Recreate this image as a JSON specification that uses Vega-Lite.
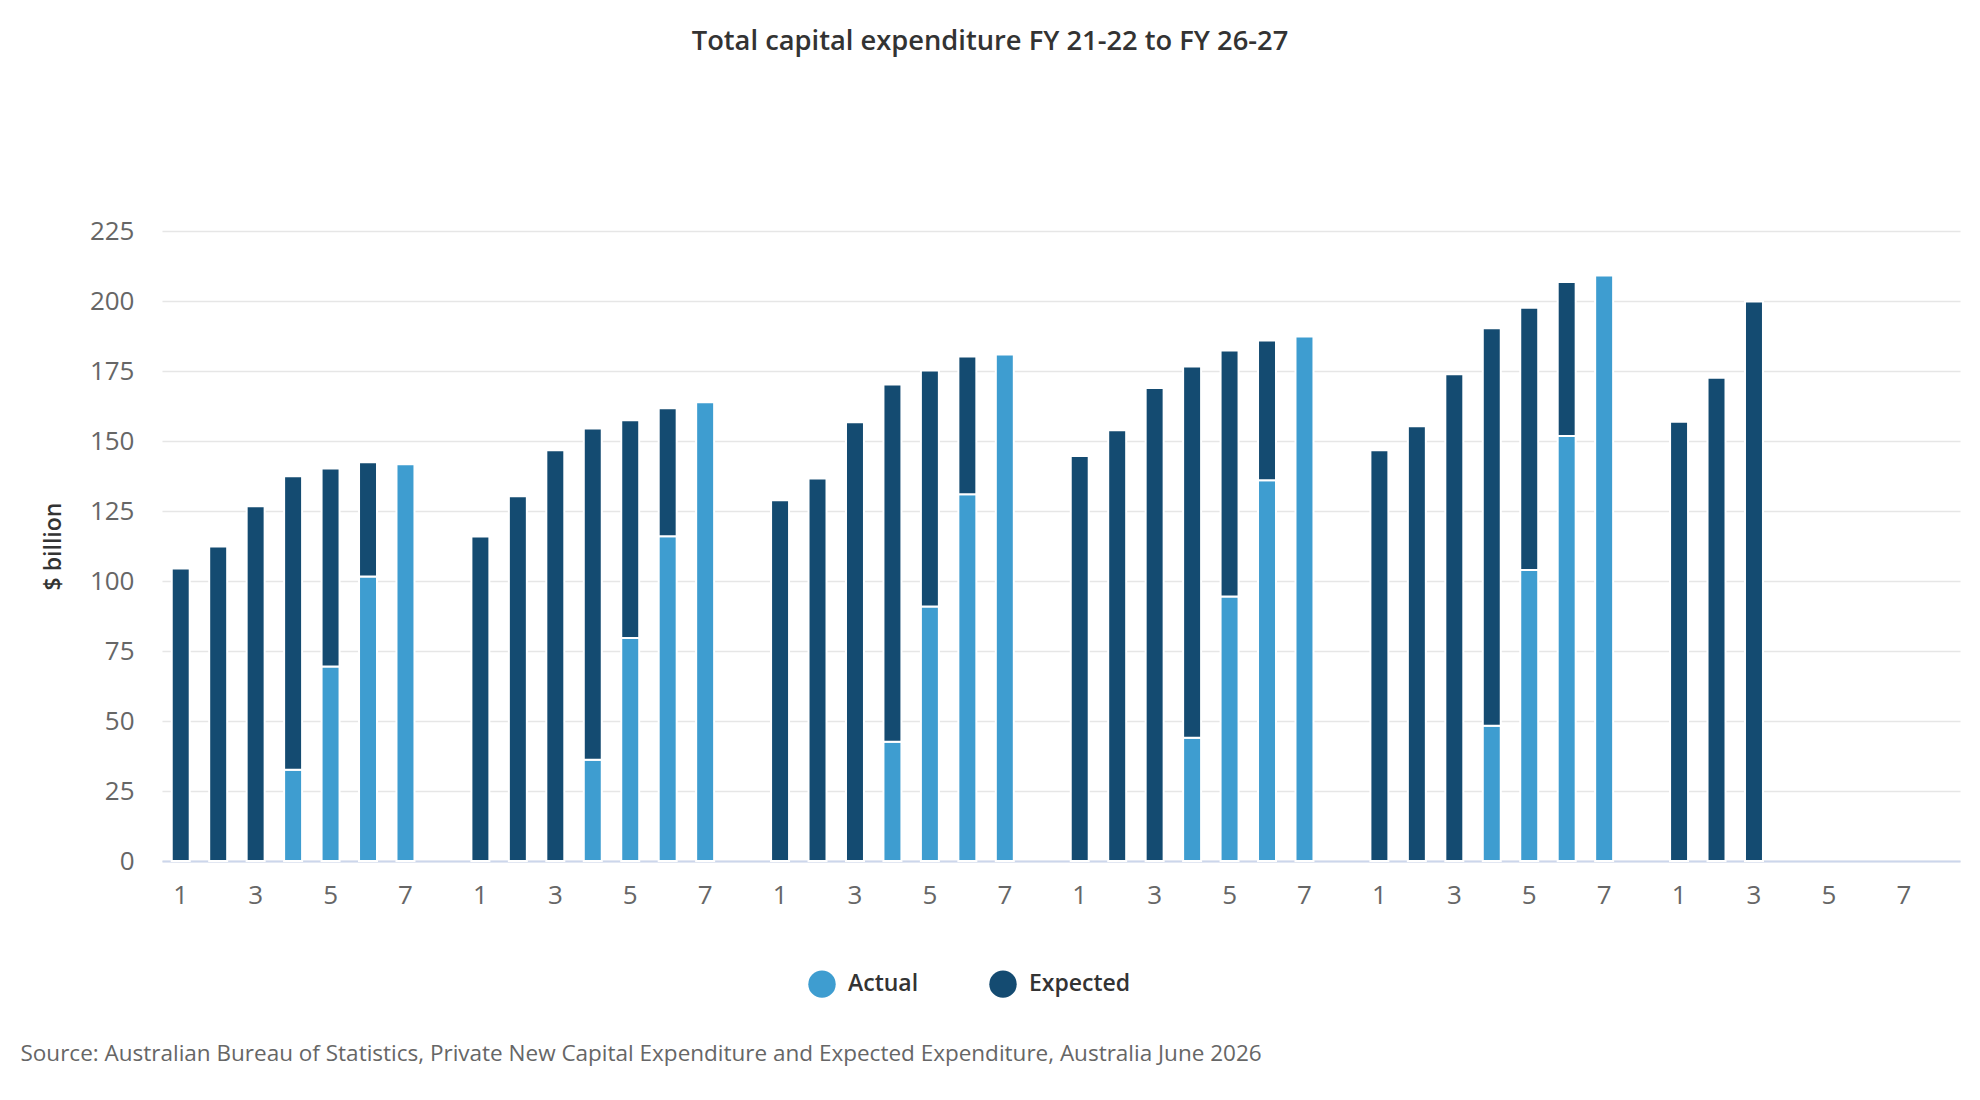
{
  "$schema": "https://vega.github.io/schema/vega-lite/v6.json",
  "width": 1798,
  "height": 630,
  "autosize": {"type": "none"},
  "padding": {"left": 162, "top": 231, "right": 20, "bottom": 239},
  "background": "white",
  "config": {
    "font": "Open Sans",
    "view": {"stroke": null}
  },
  "title": {
    "text": "Total capital expenditure FY 21-22 to FY 26-27",
    "anchor": "middle",
    "dx": -71,
    "offset": 163,
    "fontSize": 27.3,
    "fontWeight": 600,
    "color": "#333333",
    "font": "Open Sans"
  },
  "data": {
    "values": [
      {"slot": "1-1", "type": "Expected", "value": 104.5},
      {"slot": "1-2", "type": "Expected", "value": 112.3},
      {"slot": "1-3", "type": "Expected", "value": 126.7},
      {"slot": "1-4", "type": "Actual", "value": 32.6},
      {"slot": "1-4", "type": "Expected", "value": 104.8},
      {"slot": "1-5", "type": "Actual", "value": 69.5},
      {"slot": "1-5", "type": "Expected", "value": 70.7},
      {"slot": "1-6", "type": "Actual", "value": 101.6},
      {"slot": "1-6", "type": "Expected", "value": 40.8},
      {"slot": "1-7", "type": "Actual", "value": 141.7},

      {"slot": "2-1", "type": "Expected", "value": 115.9},
      {"slot": "2-2", "type": "Expected", "value": 130.3},
      {"slot": "2-3", "type": "Expected", "value": 146.7},
      {"slot": "2-4", "type": "Actual", "value": 36.2},
      {"slot": "2-4", "type": "Expected", "value": 118.3},
      {"slot": "2-5", "type": "Actual", "value": 79.6},
      {"slot": "2-5", "type": "Expected", "value": 77.8},
      {"slot": "2-6", "type": "Actual", "value": 116.0},
      {"slot": "2-6", "type": "Expected", "value": 45.7},
      {"slot": "2-7", "type": "Actual", "value": 163.8},

      {"slot": "3-1", "type": "Expected", "value": 128.8},
      {"slot": "3-2", "type": "Expected", "value": 136.6},
      {"slot": "3-3", "type": "Expected", "value": 156.7},
      {"slot": "3-4", "type": "Actual", "value": 42.6},
      {"slot": "3-4", "type": "Expected", "value": 127.6},
      {"slot": "3-5", "type": "Actual", "value": 90.9},
      {"slot": "3-5", "type": "Expected", "value": 84.3},
      {"slot": "3-6", "type": "Actual", "value": 131.0},
      {"slot": "3-6", "type": "Expected", "value": 49.2},
      {"slot": "3-7", "type": "Actual", "value": 180.9},

      {"slot": "4-1", "type": "Expected", "value": 144.6},
      {"slot": "4-2", "type": "Expected", "value": 153.8},
      {"slot": "4-3", "type": "Expected", "value": 168.9},
      {"slot": "4-4", "type": "Actual", "value": 44.0},
      {"slot": "4-4", "type": "Expected", "value": 132.6},
      {"slot": "4-5", "type": "Actual", "value": 94.5},
      {"slot": "4-5", "type": "Expected", "value": 87.8},
      {"slot": "4-6", "type": "Actual", "value": 136.0},
      {"slot": "4-6", "type": "Expected", "value": 49.9},
      {"slot": "4-7", "type": "Actual", "value": 187.3},

      {"slot": "5-1", "type": "Expected", "value": 146.7},
      {"slot": "5-2", "type": "Expected", "value": 155.3},
      {"slot": "5-3", "type": "Expected", "value": 173.8},
      {"slot": "5-4", "type": "Actual", "value": 48.3},
      {"slot": "5-4", "type": "Expected", "value": 142.0},
      {"slot": "5-5", "type": "Actual", "value": 103.9},
      {"slot": "5-5", "type": "Expected", "value": 93.7},
      {"slot": "5-6", "type": "Actual", "value": 151.8},
      {"slot": "5-6", "type": "Expected", "value": 55.0},
      {"slot": "5-7", "type": "Actual", "value": 209.1},

      {"slot": "6-1", "type": "Expected", "value": 156.9},
      {"slot": "6-2", "type": "Expected", "value": 172.6},
      {"slot": "6-3", "type": "Expected", "value": 199.8}
    ]
  },
  "mark": {"type": "bar", "stroke": "white", "strokeWidth": 2},
  "encoding": {
    "x": {
      "field": "slot",
      "type": "ordinal",
      "scale": {
        "domain": [
          "1-1", "1-2", "1-3", "1-4", "1-5", "1-6", "1-7", "1-g",
          "2-1", "2-2", "2-3", "2-4", "2-5", "2-6", "2-7", "2-g",
          "3-1", "3-2", "3-3", "3-4", "3-5", "3-6", "3-7", "3-g",
          "4-1", "4-2", "4-3", "4-4", "4-5", "4-6", "4-7", "4-g",
          "5-1", "5-2", "5-3", "5-4", "5-5", "5-6", "5-7", "5-g",
          "6-1", "6-2", "6-3", "6-4", "6-5", "6-6", "6-7", "6-g"
        ],
        "paddingInner": 0.52,
        "paddingOuter": 0.26
      },
      "axis": {
        "title": "Source: Australian Bureau of Statistics, Private New Capital Expenditure and Expected Expenditure, Australia June 2026",
        "titleFont": "Open Sans",
        "titleFontSize": 22.5,
        "titleFontWeight": "normal",
        "titleColor": "#666666",
        "titleAnchor": "start",
        "titleAlign": "left",
        "titleBaseline": "middle",
        "titleX": -142,
        "titleY": 192,
        "labelAngle": 0,
        "labelExpr": "indexof(['1','3','5','7'], split(datum.label, '-')[1]) >= 0 ? split(datum.label, '-')[1] : ''",
        "labelFontSize": 26,
        "labelColor": "#666666",
        "labelPadding": 21,
        "ticks": false,
        "domainColor": "#ccd6eb",
        "domainWidth": 2,
        "grid": false
      }
    },
    "y": {
      "field": "value",
      "type": "quantitative",
      "stack": "zero",
      "scale": {"domain": [0, 225], "nice": false},
      "axis": {
        "title": "$ billion",
        "titleFont": "Open Sans",
        "titleFontSize": 23,
        "titleFontWeight": 600,
        "titleColor": "#333333",
        "titleX": -109,
        "titleY": 315,
        "titleAngle": -90,
        "titleAlign": "center",
        "titleBaseline": "middle",
        "values": [0, 25, 50, 75, 100, 125, 150, 175, 200, 225],
        "labelFontSize": 26,
        "labelColor": "#666666",
        "labelPadding": 28,
        "ticks": false,
        "domain": false,
        "gridColor": "#e6e6e6",
        "gridWidth": 1.5
      }
    },
    "color": {
      "field": "type",
      "type": "nominal",
      "scale": {"domain": ["Actual", "Expected"], "range": ["#3e9dd0", "#144b71"]},
      "legend": {
        "title": null,
        "orient": "none",
        "direction": "horizontal",
        "legendX": 646,
        "legendY": 739,
        "padding": 0,
        "symbolType": "circle",
        "symbolSize": 750,
        "symbolStrokeWidth": 0,
        "labelFont": "Open Sans",
        "labelFontSize": 23,
        "labelFontWeight": 600,
        "labelColor": "#333333",
        "labelOffset": 12,
        "columnPadding": 70
      }
    },
    "order": {"field": "type", "sort": "ascending"}
  }
}
